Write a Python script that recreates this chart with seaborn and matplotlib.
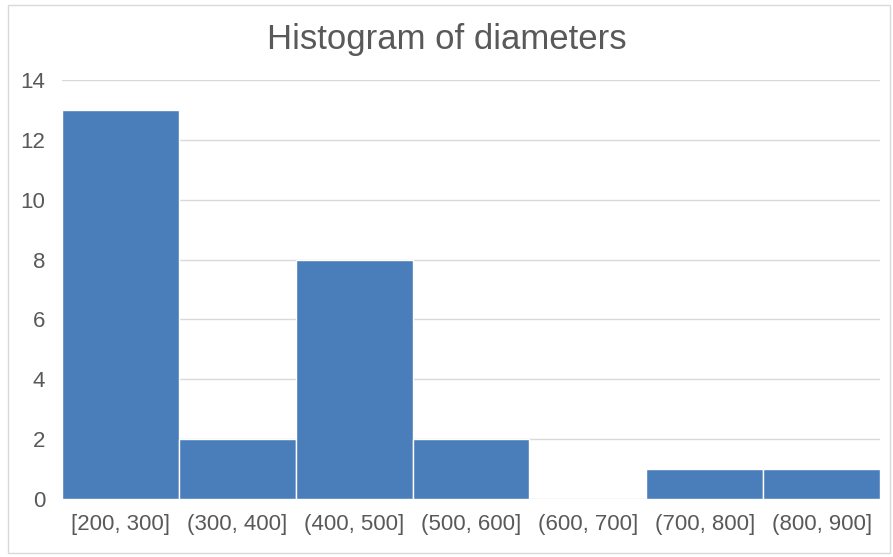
import matplotlib
matplotlib.use("Agg")
import matplotlib.pyplot as plt
import seaborn as sns
import pandas as pd
from matplotlib.patches import Rectangle

categories = ["[200, 300]", "(300, 400]", "(400, 500]", "(500, 600]",
              "(600, 700]", "(700, 800]", "(800, 900]"]
counts = [13, 2, 8, 2, 0, 1, 1]
yticks = [0, 2, 4, 6, 8, 10, 12, 14]

sns.set_theme(style="white")
plt.rcParams['font.family'] = ['Liberation Sans', 'DejaVu Sans']

df = pd.DataFrame({"bin": categories, "count": counts})

fig = plt.figure(figsize=(8.93, 5.57), dpi=100)
ax = fig.add_axes([62/893, 1-499/557, (880-62)/893, (499-80)/557])

sns.barplot(data=df, x="bin", y="count", color="#4A7EBB", saturation=1,
            width=1.0, edgecolor="white", linewidth=1.0, ax=ax, zorder=3)

ax.set_ylim(0, 14)
ax.set_xlim(-0.5, len(categories) - 0.5)
ax.set_yticks(yticks)
ax.set_yticklabels([str(t) for t in yticks])
for t in yticks:
    ax.axhline(t, color="#D9D9D9", linewidth=1.0, zorder=1)
for s in ax.spines.values():
    s.set_visible(False)
ax.set_xlabel("")
ax.set_ylabel("")
ax.tick_params(axis="both", length=0, labelsize=16, labelcolor="#595959")
ax.tick_params(axis="x", pad=11)
ax.tick_params(axis="y", pad=12)

fig.text(0.5, 1 - 39/557, "Histogram of diameters", ha="center", va="center",
         fontsize=25, color="#595959")

fig.patches.append(Rectangle((8/893, 1-553/557), (890-8)/893, (553-5)/557,
                             transform=fig.transFigure, fill=False,
                             edgecolor="#D9D9D9", linewidth=1.0))

fig.savefig("out.png", dpi=100)
